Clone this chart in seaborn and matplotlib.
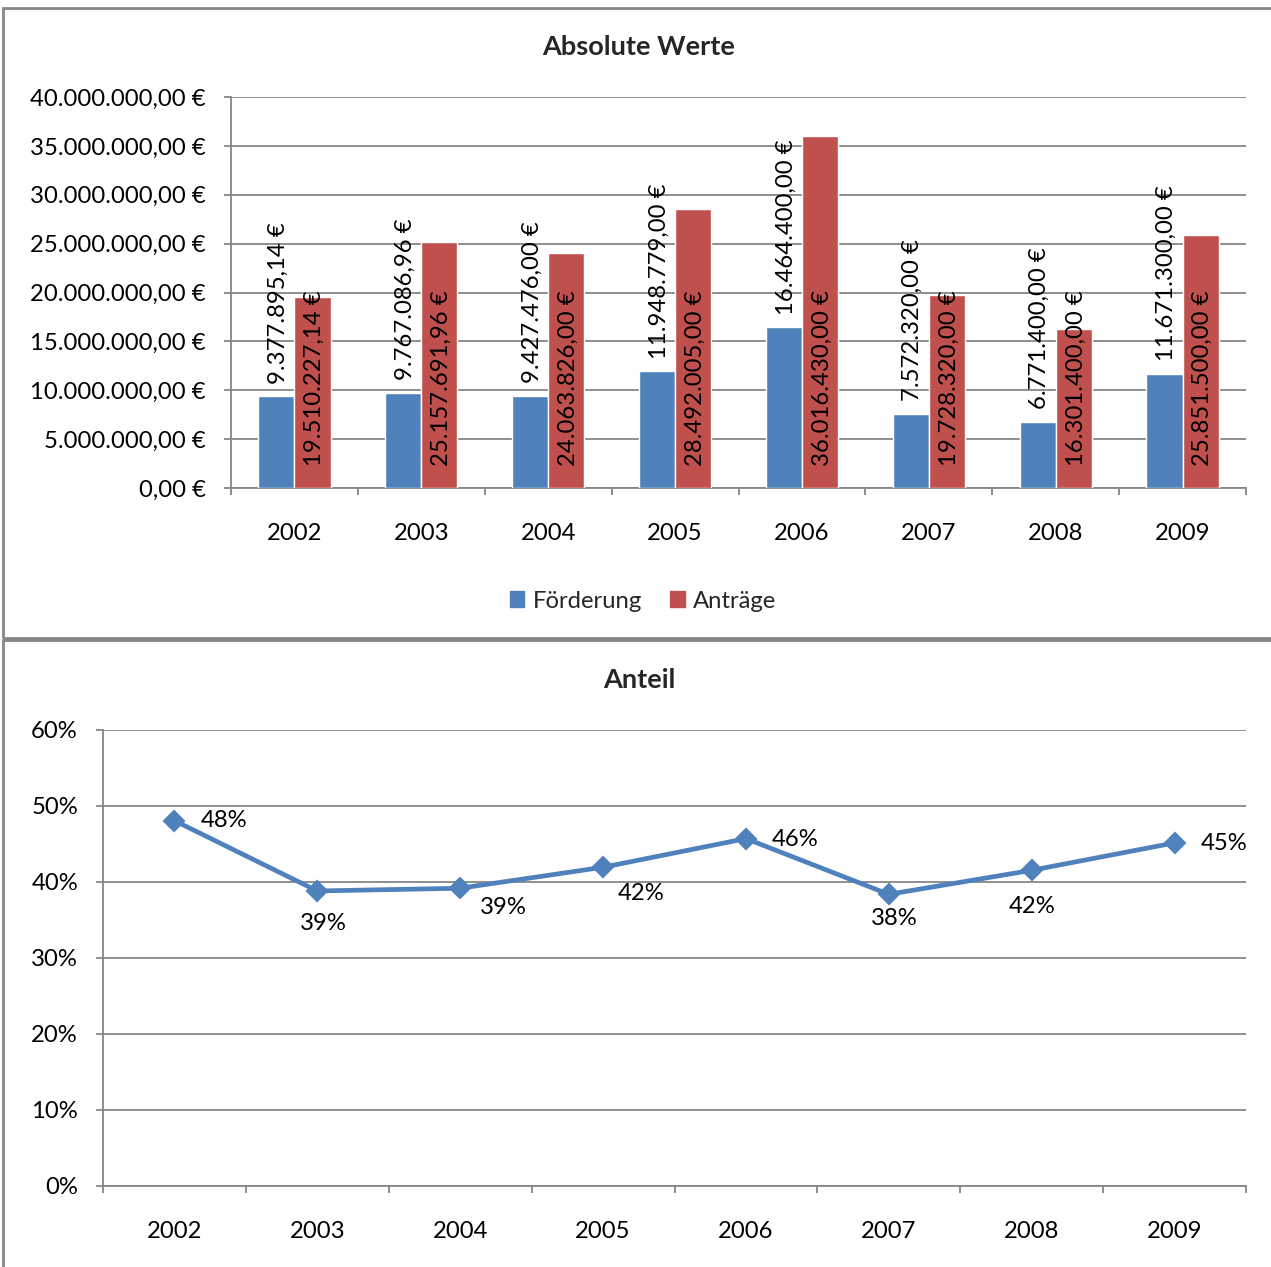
import matplotlib
matplotlib.use("Agg")
import matplotlib.pyplot as plt
from matplotlib.patches import Rectangle, Patch
from matplotlib.ticker import FuncFormatter, FixedLocator
import seaborn as sns
import pandas as pd
import numpy as np

years = ["2002", "2003", "2004", "2005", "2006", "2007", "2008", "2009"]
foerderung = [9377895.14, 9767086.96, 9427476.00, 11948779.00, 16464400.00, 7572320.00, 6771400.00, 11671300.00]
antraege = [19510227.14, 25157691.96, 24063826.00, 28492005.00, 36016430.00, 19728320.00, 16301400.00, 25851500.00]
anteil = [0.4807, 0.3882, 0.3918, 0.4194, 0.4571, 0.3838, 0.4154, 0.4515]
series_names = ["Förderung", "Anträge"]

BLUE = "#4F81BD"
RED = "#C0504D"
GRAY = "#868686"
FONT = "Lato"
FS = 17.2
TFS = 19.5

sns.set_theme(style="white")
plt.rcParams["font.family"] = [FONT, "DejaVu Sans"]

W, H = 1271, 1267
fig = plt.figure(figsize=(W / 100, H / 100), dpi=100)
fig.patch.set_facecolor("white")

def de_eur(v, pos=None):
    s = f"{v:,.2f}".replace(",", "X").replace(".", ",").replace("X", ".")
    return s + " €"

# borders
fig.add_artist(Rectangle((3 / W, 1 - 638 / H), 1300 / W, (638 - 8) / H, transform=fig.transFigure,
                         fill=False, edgecolor=GRAY, lw=2))
fig.add_artist(Rectangle((3 / W, 1 - 1300 / H), 1300 / W, (1300 - 640) / H, transform=fig.transFigure,
                         fill=False, edgecolor=GRAY, lw=2))

def style_axes(ax):
    for side in ("top", "right"):
        ax.spines[side].set_visible(False)
    for side in ("left", "bottom"):
        ax.spines[side].set_color(GRAY)
        ax.spines[side].set_linewidth(1.3)
    ax.yaxis.grid(True, color=GRAY, lw=1.3, zorder=0)
    ax.xaxis.grid(False)
    ax.set_axisbelow(True)
    ax.tick_params(axis="y", which="major", length=5, width=1.3, color=GRAY, pad=13,
                   labelsize=FS, labelcolor="black", left=True)
    ax.tick_params(axis="x", which="major", length=0, pad=25, labelsize=FS, labelcolor="black")
    ax.xaxis.set_minor_locator(FixedLocator(np.arange(-0.5, len(years), 1.0)))
    ax.tick_params(axis="x", which="minor", length=5, width=1.3, color=GRAY, bottom=True)
    for lab in ax.get_xticklabels() + ax.get_yticklabels():
        lab.set_fontfamily([FONT, "DejaVu Sans"])

# ---------- top chart ----------
ax1 = fig.add_axes([231 / W, 1 - 488 / H, (1246 - 231) / W, (488 - 97) / H])
df = pd.DataFrame({
    "Jahr": years * 2,
    "Wert": foerderung + antraege,
    "Reihe": [series_names[0]] * len(years) + [series_names[1]] * len(years),
})
sns.barplot(data=df, x="Jahr", y="Wert", hue="Reihe", palette=[BLUE, RED], width=0.57,
            saturation=1, ax=ax1, legend=False, errorbar=None, zorder=3)
ax1.set_ylim(0, 40_000_000)
ax1.set_xlim(-0.5, len(years) - 0.5)
ax1.set_yticks(np.arange(0, 40_000_001, 5_000_000))
ax1.yaxis.set_major_formatter(FuncFormatter(de_eur))
ax1.set_xlabel("")
ax1.set_ylabel("")
style_axes(ax1)

# bar labels
blue_bars = ax1.containers[0]
red_bars = ax1.containers[1]
for bar, v in zip(blue_bars, foerderung):
    cx = bar.get_x() + bar.get_width() / 2
    ax1.annotate(de_eur(v), (cx, v), xytext=(1.5, 9), textcoords="offset points",
                 rotation=90, ha="center", va="bottom", fontsize=FS, color="black", zorder=5)
for bar, v in zip(red_bars, antraege):
    cx = bar.get_x() + bar.get_width() / 2
    ax1.annotate(de_eur(v), (cx, 0), xytext=(1.5, 16), textcoords="offset points",
                 rotation=90, ha="center", va="bottom", fontsize=FS, color="black", zorder=5)

fig.text(639 / W, 1 - 47 / H, "Absolute Werte", ha="center", va="center", fontsize=TFS,
         fontweight="bold")

handles = [Patch(facecolor=BLUE, edgecolor=BLUE), Patch(facecolor=RED, edgecolor=RED)]
fig.legend(handles, series_names, loc="center", bbox_to_anchor=(643 / W, 1 - 601 / H),
           ncol=2, frameon=False, fontsize=FS, handlelength=0.6, handleheight=0.6,
           handletextpad=0.35, columnspacing=1.2)

# ---------- bottom chart ----------
ax2 = fig.add_axes([103 / W, 1 - 1186 / H, (1246 - 103) / W, (1186 - 730) / H])
sns.pointplot(x=years, y=anteil, color=BLUE, markers="D", markersize=9, linewidth=3.4,
              ax=ax2, errorbar=None, zorder=4)
ax2.set_ylim(0, 0.6)
ax2.set_xlim(-0.5, len(years) - 0.5)
ax2.set_yticks(np.arange(0, 0.61, 0.1))
ax2.yaxis.set_major_formatter(FuncFormatter(lambda v, p: f"{v * 100:.0f}%"))
style_axes(ax2)

label_offsets = [(26, 0, "left", "center"), (6, -33, "center", "center"), (43, -19, "center", "center"),
                 (38, -26, "center", "center"), (26, -1, "left", "center"), (5, -24, "center", "center"),
                 (0, -36, "center", "center"), (26, -1, "left", "center")]
for i, (v, (dx, dy, ha, va)) in enumerate(zip(anteil, label_offsets)):
    ax2.annotate(f"{v * 100:.0f}%", (i, v), xytext=(dx * 0.72, dy * 0.72), textcoords="offset points",
                 ha=ha, va=va, fontsize=FS, color="black", zorder=5)

fig.text(639 / W, 1 - 680 / H, "Anteil", ha="center", va="center", fontsize=TFS, fontweight="bold")

fig.savefig("out.png", dpi=100, facecolor="white")
